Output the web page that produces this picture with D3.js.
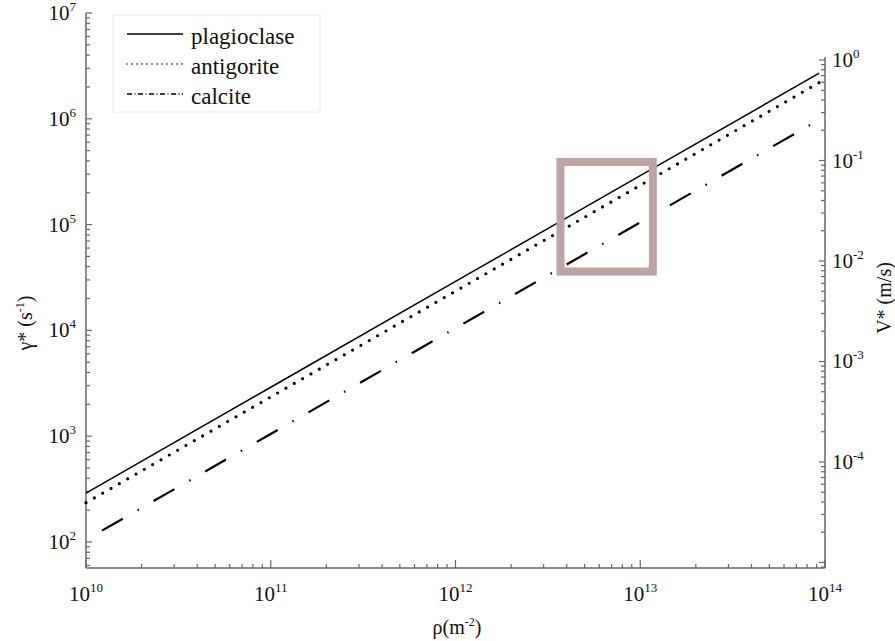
<!DOCTYPE html>
<html>
<head>
<meta charset="utf-8">
<script src="https://cdn.jsdelivr.net/npm/d3@7"></script>
<style>
  body { margin: 0; background: #fff; }
  text { font-family: "Liberation Serif", "Times New Roman", serif; fill: #111; }
</style>
</head>
<body>
<div id="chart"></div>
<script>
// dislocation density (x) and strain rate (left y)
var rho = [1e10, 1e11, 1e12, 1e13, 9.3e13];
var rhoCalcite = [1.22e10, 1e11, 1e12, 1e13, 9.5e13];
var plagioclase = [290, 2.9e3, 2.9e4, 2.9e5, 2.7e6];
var antigorite = [235, 2.35e3, 2.35e4, 2.35e5, 2.2e6];
var calcite = [128, 1.05e3, 1.05e4, 1.05e5, 1.0e6];

var xTickExp = [10, 11, 12, 13, 14];
var yTickExp = [2, 3, 4, 5, 6, 7];
var vTickExp = [0, -1, -2, -3, -4];

// highlighted box (rho range, gamma range)
var boxRho = [3.7e12, 1.17e13];
var boxGamma = [3.6e4, 3.9e5];

var series = [
  {name: 'plagioclase', x: rho, y: plagioclase, dash: null, w: 1.5, cap: 'butt'},
  {name: 'antigorite', x: rho, y: antigorite, dash: '0,9.6', w: 3.2, cap: 'round'},
  {name: 'calcite', x: rhoCalcite, y: calcite, dash: '24,17,1.5,17', w: 2.2, cap: 'butt'}
];

var W = 895, H = 641;
var pLeft = 86, pRight = 825, pBottom = 568, pTop = 13;

var svg = d3.select('#chart').append('svg')
  .attr('width', W).attr('height', H);

var x = d3.scaleLog().domain([1e10, 1e14]).range([pLeft, pRight]);
var y = d3.scaleLog().domain([Math.pow(10, 1.754), 1e7]).range([pBottom, pTop]);
var v = d3.scaleLog().domain([Math.pow(10, -5.055), Math.pow(10, 0.03)]).range([pBottom, 57]);

var axisColor = '#666';

function minorTicks(scale) {
  var d = scale.domain(), out = [];
  var lo = Math.floor(Math.log10(d[0])), hi = Math.ceil(Math.log10(d[1]));
  for (var e = lo; e <= hi; e++) {
    for (var m = 1; m < 10; m++) {
      var t = m * Math.pow(10, e);
      if (t >= d[0] * 0.999 && t <= d[1] * 1.001) out.push({v: t, major: m === 1});
    }
  }
  return out;
}

// axis lines
svg.append('line').attr('x1', pLeft).attr('x2', pLeft).attr('y1', pTop).attr('y2', pBottom)
  .attr('stroke', axisColor).attr('stroke-width', 1.5);
svg.append('line').attr('x1', pLeft).attr('x2', pRight).attr('y1', pBottom).attr('y2', pBottom)
  .attr('stroke', axisColor).attr('stroke-width', 1.5);
svg.append('line').attr('x1', pRight).attr('x2', pRight).attr('y1', v.range()[1]).attr('y2', pBottom)
  .attr('stroke', axisColor).attr('stroke-width', 1.5);

// ticks, pointing inward
svg.selectAll('.xt').data(minorTicks(x)).enter().append('line')
  .attr('x1', function(d){return x(d.v);}).attr('x2', function(d){return x(d.v);})
  .attr('y1', pBottom).attr('y2', function(d){return pBottom - (d.major ? 8 : 4);})
  .attr('stroke', axisColor).attr('stroke-width', 1.2);

svg.selectAll('.yt').data(minorTicks(y)).enter().append('line')
  .attr('y1', function(d){return y(d.v);}).attr('y2', function(d){return y(d.v);})
  .attr('x1', pLeft).attr('x2', function(d){return pLeft + (d.major ? 6 : 4);})
  .attr('stroke', axisColor).attr('stroke-width', 1.2);

svg.selectAll('.vt').data(minorTicks(v)).enter().append('line')
  .attr('y1', function(d){return v(d.v);}).attr('y2', function(d){return v(d.v);})
  .attr('x1', pRight).attr('x2', function(d){return pRight - (d.major ? 6 : 4);})
  .attr('stroke', axisColor).attr('stroke-width', 1.2);

// power-of-ten labels
function powLabel(sel, e) {
  sel.append('tspan').attr('font-size', 21).text('10');
  sel.append('tspan').attr('font-size', 13).attr('dy', -9).text(e);
}

xTickExp.forEach(function(e) {
  var t = svg.append('text').attr('x', x(Math.pow(10, e))).attr('y', 601)
    .attr('text-anchor', 'middle');
  powLabel(t, e);
});

yTickExp.forEach(function(e) {
  var t = svg.append('text').attr('x', 76).attr('y', y(Math.pow(10, e)) + 7)
    .attr('text-anchor', 'end');
  powLabel(t, e);
});

vTickExp.forEach(function(e) {
  var t = svg.append('text').attr('x', 832).attr('y', v(Math.pow(10, e)) + 7)
    .attr('text-anchor', 'start');
  powLabel(t, e);
});

// axis titles
var xt = svg.append('text').attr('x', 457).attr('y', 634).attr('text-anchor', 'middle')
  .attr('font-size', 20);
xt.append('tspan').text('ρ(m');
xt.append('tspan').attr('font-size', 12).attr('dy', -8).text('-2');
xt.append('tspan').attr('dy', 8).text(')');

var yt = svg.append('text').attr('transform', 'translate(32,323) rotate(-90)')
  .attr('text-anchor', 'middle').attr('font-size', 20);
yt.append('tspan').text('γ* (s');
yt.append('tspan').attr('font-size', 12).attr('dy', -8).text('-1');
yt.append('tspan').attr('dy', 8).text(')');

svg.append('text').attr('transform', 'translate(891,298) rotate(-90)')
  .attr('text-anchor', 'middle').attr('font-size', 20).text('V* (m/s)');

// data lines
var line = d3.line();
series.forEach(function(s) {
  var pts = s.x.map(function(r, i) { return [x(r), y(s.y[i])]; });
  svg.append('path').attr('d', line(pts))
    .attr('fill', 'none').attr('stroke', '#000')
    .attr('stroke-width', s.w)
    .attr('stroke-linecap', s.cap)
    .attr('stroke-dasharray', s.dash);
});

// highlight box
svg.append('rect')
  .attr('x', x(boxRho[0])).attr('y', y(boxGamma[1]))
  .attr('width', x(boxRho[1]) - x(boxRho[0]))
  .attr('height', y(boxGamma[0]) - y(boxGamma[1]))
  .attr('fill', 'none').attr('stroke', '#bfa2a2').attr('stroke-width', 8);

// legend
svg.append('rect').attr('x', 113).attr('y', 15).attr('width', 207).attr('height', 97)
  .attr('fill', '#fff').attr('stroke', '#eaeaea').attr('stroke-width', 1);

var legendDash = [null, '0,5', '5,2.5,1,2.5'];
var legendW = [1.6, 1.6, 1.6];
series.forEach(function(s, i) {
  var ly = 34 + i * 30;
  svg.append('line').attr('x1', 127).attr('x2', 183).attr('y1', ly).attr('y2', ly)
    .attr('stroke', '#000').attr('stroke-width', legendW[i])
    .attr('stroke-linecap', i === 1 ? 'round' : 'butt')
    .attr('stroke-dasharray', legendDash[i]);
  svg.append('text').attr('x', 191).attr('y', ly + 10)
    .attr('font-size', 23).text(s.name);
});
</script>
</body>
</html>
